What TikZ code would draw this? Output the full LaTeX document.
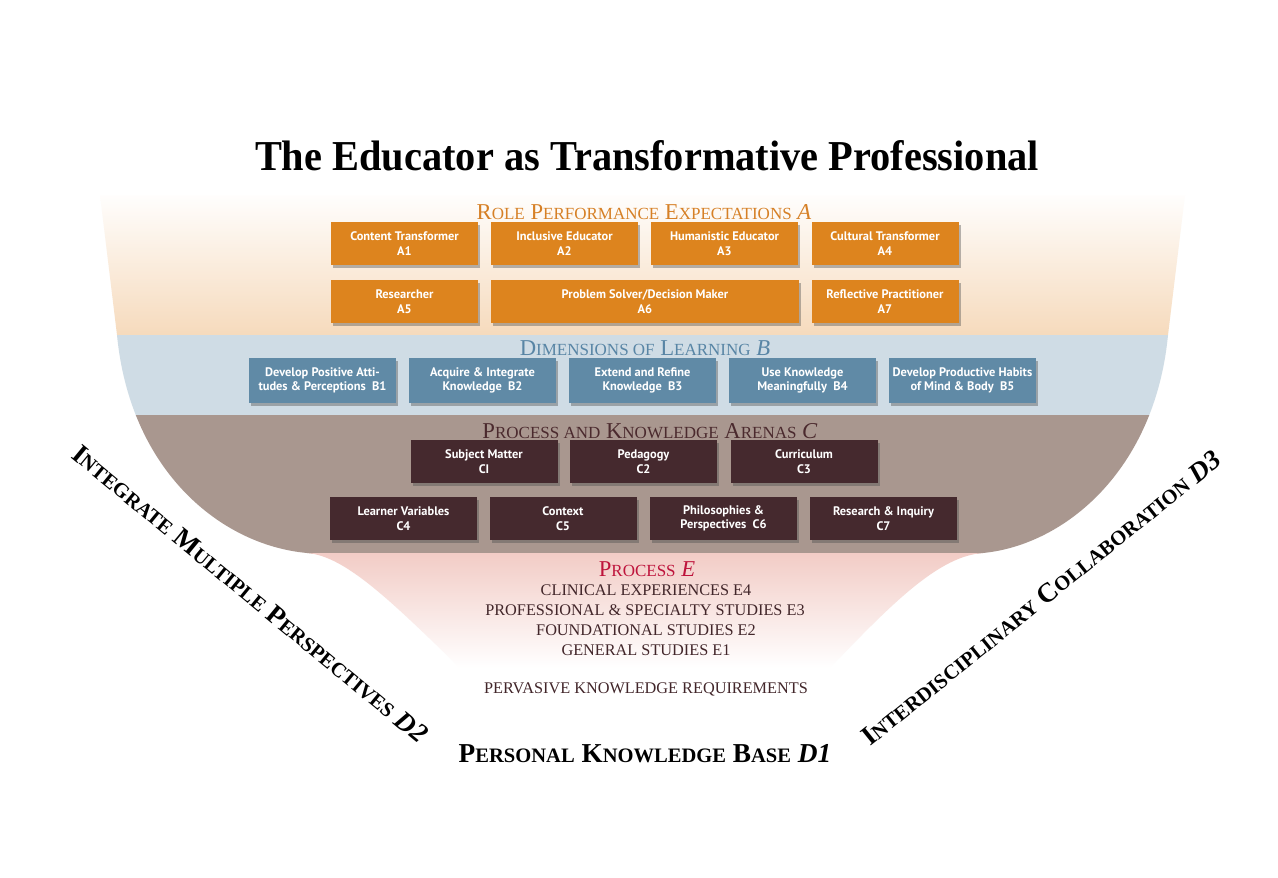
\documentclass[tikz,border=0pt]{standalone}
\usepackage{fontspec}
\usepackage{graphicx}
\setmainfont{Liberation Serif}
\newfontfamily\boxfont{PT Sans}
\usetikzlibrary{shadows}
\definecolor{orangebox}{RGB}{221,132,30}
\definecolor{orangehead}{RGB}{214,128,38}
\definecolor{peach}{RGB}{246,218,188}
\definecolor{blueband}{RGB}{207,220,229}
\definecolor{bluebox}{RGB}{96,138,166}
\definecolor{bluehead}{RGB}{88,133,165}
\definecolor{brownband}{RGB}{169,151,143}
\definecolor{maroonbox}{RGB}{69,41,46}
\definecolor{maroonhead}{RGB}{75,42,46}
\definecolor{pinkband}{RGB}{242,204,198}
\definecolor{crimson}{RGB}{190,20,60}
\definecolor{etext}{RGB}{66,38,42}
\newcommand\hsc[1]{{\fontsize{12.75}{12.75}\selectfont #1}}
\newcommand\dsc[1]{{\fontsize{15.4}{15.4}\selectfont #1}}
\tikzset{
  rolebox/.style={draw=none, fill=#1, text=white, inner sep=0pt, align=center,
    minimum height=32.25pt, font=\boxfont\bfseries\fontsize{9.3}{10.8}\selectfont,
    drop shadow={shadow xshift=1.8pt, shadow yshift=-2pt, opacity=0.4, fill=black!70}},
  wbox/.style={minimum width=110.25pt},
  heading/.style={anchor=base, inner sep=0pt, font=\fontsize{17}{17}\selectfont},
  eline/.style={anchor=base, inner sep=0pt, text=etext, font=\fontsize{12.2}{12.2}\selectfont},
  dtext/.style={inner sep=0pt, text=black, font=\bfseries\fontsize{20.5}{20.5}\selectfont},
}
\begin{document}
\begin{tikzpicture}[x=0.75pt, y=-0.75pt]
\useasboundingbox (0,0) rectangle (1278,878);
\fill[white] (0,0) rectangle (1278,878);
% cup shape with bands
\begin{scope}
\clip (100,195) -- (1185,195) -- (1168,335)
  .. controls (1155,470) and (1065,545) .. (983,553)
  .. controls (940,556) and (895,600) .. (830,668)
  -- (460,668)
  .. controls (390,600) and (345,556) .. (307,553)
  .. controls (220,545) and (130,470) .. (117,335) -- cycle;
\shade[top color=white, bottom color=peach] (0,190) rectangle (1278,336);
\fill[blueband] (0,335) rectangle (1278,416);
\fill[brownband] (0,415) rectangle (1278,554);
\shade[top color=pinkband, bottom color=white] (0,553) rectangle (1278,668);
\end{scope}

% title
\node[anchor=base, inner sep=0pt] (title) at (647,170)
  {\resizebox{588pt}{22.5pt}{\bfseries The Educator as Transformative Professional}};

% A section
\node[heading, text=orangehead] (headA) at (644,219)
  {R\hsc{OLE} P\hsc{ERFORMANCE} E\hsc{XPECTATIONS} \textit{A}};
\node[rolebox=orangebox, wbox] (A1) at (404.5,243.5) {Content Transformer\\A1};
\node[rolebox=orangebox, wbox] (A2) at (564.5,243.5) {Inclusive Educator\\A2};
\node[rolebox=orangebox, wbox] (A3) at (724.5,243.5) {Humanistic Educator\\A3};
\node[rolebox=orangebox, wbox] (A4) at (885,243.5) {Cultural Transformer\\A4};
\node[rolebox=orangebox, wbox] (A5) at (404.5,301.5) {Researcher\\A5};
\node[rolebox=orangebox, minimum width=231pt] (A6) at (645,301.5) {Problem Solver/Decision Maker\\A6};
\node[rolebox=orangebox, wbox] (A7) at (885,301.5) {Reflective Practitioner\\A7};

% B section
\node[heading, text=bluehead] (headB) at (645,355)
  {D\hsc{IMENSIONS OF} L\hsc{EARNING} \textit{B}};
\node[rolebox=bluebox, wbox, minimum height=33.75pt] (B1) at (322.5,380.5) {Develop Positive Atti-\\tudes \& Perceptions~~B1};
\node[rolebox=bluebox, wbox, minimum height=33.75pt] (B2) at (482.5,380.5) {Acquire \& Integrate\\Knowledge~~B2};
\node[rolebox=bluebox, wbox, minimum height=33.75pt] (B3) at (642.5,380.5) {Extend and Refine\\Knowledge~~B3};
\node[rolebox=bluebox, wbox, minimum height=33.75pt] (B4) at (802.5,380.5) {Use Knowledge\\Meaningfully~~B4};
\node[rolebox=bluebox, wbox, minimum height=33.75pt] (B5) at (962.5,380.5) {Develop Productive Habits\\of Mind \& Body~~B5};

% C section
\node[heading, text=maroonhead] (headC) at (650,438)
  {P\hsc{ROCESS AND} K\hsc{NOWLEDGE} A\hsc{RENAS} \textit{C}};
\node[rolebox=maroonbox, wbox] (C1) at (484,461.5) {Subject Matter\\CI};
\node[rolebox=maroonbox, wbox] (C2) at (643.5,461.5) {Pedagogy\\C2};
\node[rolebox=maroonbox, wbox] (C3) at (804,461.5) {Curriculum\\C3};
\node[rolebox=maroonbox, wbox] (C4) at (403.5,518.5) {Learner Variables\\C4};
\node[rolebox=maroonbox, wbox] (C5) at (563,518.5) {Context\\C5};
\node[rolebox=maroonbox, wbox] (C6) at (723.5,518.5) {Philosophies \&\\Perspectives~~C6};
\node[rolebox=maroonbox, wbox] (C7) at (883.5,518.5) {Research \& Inquiry\\C7};

% E section
\node[heading, text=crimson] (headE) at (647,576) {P\hsc{ROCESS} \textit{E}};
\node[eline] (E4) at (646,595) {CLINICAL EXPERIENCES E4};
\node[eline] (E3) at (645,615) {PROFESSIONAL \& SPECIALTY STUDIES E3};
\node[eline] (E2) at (646,635) {FOUNDATIONAL STUDIES E2};
\node[eline] (E1) at (646,655) {GENERAL STUDIES E1};
\node[eline] (PKR) at (646,693) {PERVASIVE KNOWLEDGE REQUIREMENTS};

% D labels
\node[dtext, anchor=base] (D1) at (645,762)
  {P\dsc{ERSONAL} K\dsc{NOWLEDGE} B\dsc{ASE} \textit{D1}};
\node[dtext, rotate=-39.5] (D2) at (250,594)
  {I\dsc{NTEGRATE} M\dsc{ULTIPLE} P\dsc{ERSPECTIVES} \textit{D2}};
\node[dtext, rotate=38.8] (D3) at (1041,598)
  {I\dsc{NTERDISCIPLINARY} C\dsc{OLLABORATION} \textit{D3}};
\end{tikzpicture}
\end{document}
